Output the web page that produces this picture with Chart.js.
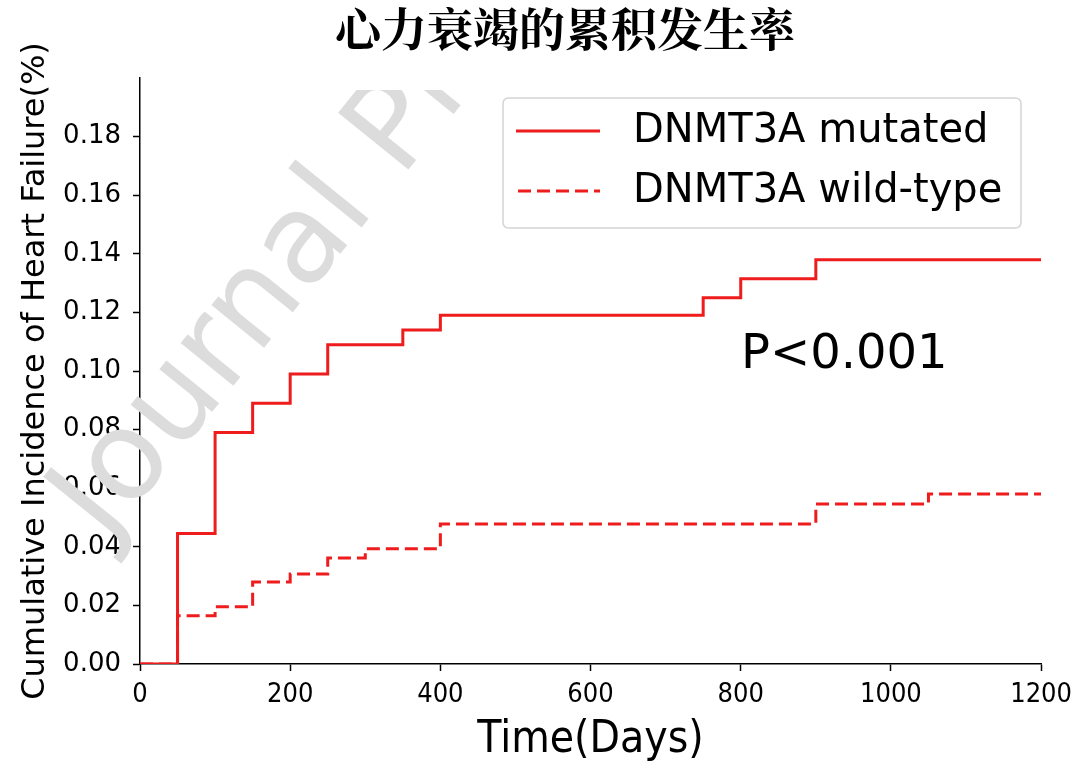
<!DOCTYPE html>
<html>
<head>
<meta charset="utf-8">
<script src="https://cdn.jsdelivr.net/npm/chart.js@4.4.1/dist/chart.umd.min.js"></script>
<style>
  html, body { margin:0; padding:0; background:#fff; }
  #c { display:block; }
</style>
</head>
<body>
<canvas id="c" width="1080" height="779"></canvas>
<script>
// data
var mutatedDays   = [0, 50, 100, 150, 200, 250, 350, 400, 750, 800, 900, 1200];
var mutatedRate   = [0, 0.0445, 0.079, 0.089, 0.099, 0.109, 0.114, 0.119, 0.125, 0.1315, 0.138, 0.138];
var wildDays      = [0, 50, 100, 150, 200, 250, 300, 400, 900, 1050, 1200];
var wildRate      = [0, 0.0165, 0.0195, 0.028, 0.0307, 0.0362, 0.0393, 0.0478, 0.0546, 0.058, 0.058];
var seriesNames   = ["DNMT3A mutated", "DNMT3A wild-type"];
var chartTitle    = "心力衰竭的累积发生率";
var xTitle        = "Time(Days)";
var yTitle        = "Cumulative Incidence of Heart Failure(%)";
var pText         = "P<0.001";
var watermarkText = "Journal Pre-proof";

function toPoints(xs, ys){
    var pts = [];
    for(var i=0;i<xs.length;i++){
        pts.push({x: xs[i], y: ys[i]});
    }
    return pts;
}

var FONT = "'DejaVu Sans', sans-serif";
var NARROW = "'Liberation Sans Narrow', 'DejaVu Sans Condensed', sans-serif";
var COND = "'DejaVu Sans Condensed', 'DejaVu Sans', sans-serif";
var RED = "#ee1c1c";

// watermark sits under the lines
var watermarkPlugin = {
    id: "watermark",
    beforeDatasetsDraw: function(chart){
        var ctx = chart.ctx;
        ctx.save();
        ctx.beginPath();
        ctx.rect(0, 90, 1080, 689);
        ctx.clip();
        ctx.translate(106, 543);
        ctx.rotate(-51 * Math.PI / 180);
        ctx.fillStyle = "#dcdcdc";
        ctx.font = "124px " + FONT;
        ctx.textBaseline = "alphabetic";
        ctx.fillText(watermarkText, 0, 0);
        ctx.restore();
    }
};

// title, legend box and p value
var overlayPlugin = {
    id: "overlay",
    afterDraw: function(chart){
        var ctx = chart.ctx;
        ctx.save();
        ctx.fillStyle = "#000";
        ctx.textAlign = "center";
        ctx.textBaseline = "middle";
        ctx.font = "bold 46px 'Noto Serif CJK SC', 'Noto Sans CJK SC', serif";
        ctx.fillText(chartTitle, 565, 29);

        // legend box
        var bx = 503, by = 98, bw = 518, bh = 130, r = 6;
        ctx.beginPath();
        ctx.moveTo(bx + r, by);
        ctx.lineTo(bx + bw - r, by);
        ctx.quadraticCurveTo(bx + bw, by, bx + bw, by + r);
        ctx.lineTo(bx + bw, by + bh - r);
        ctx.quadraticCurveTo(bx + bw, by + bh, bx + bw - r, by + bh);
        ctx.lineTo(bx + r, by + bh);
        ctx.quadraticCurveTo(bx, by + bh, bx, by + bh - r);
        ctx.lineTo(bx, by + r);
        ctx.quadraticCurveTo(bx, by, bx + r, by);
        ctx.closePath();
        ctx.fillStyle = "rgba(255,255,255,0.92)";
        ctx.fill();
        ctx.strokeStyle = "#d4d4d4";
        ctx.lineWidth = 1.5;
        ctx.stroke();

        ctx.strokeStyle = RED;
        ctx.lineWidth = 3;
        ctx.setLineDash([]);
        ctx.beginPath();
        ctx.moveTo(516, 131); ctx.lineTo(600, 131);
        ctx.stroke();
        ctx.setLineDash([13, 6]);
        ctx.beginPath();
        ctx.moveTo(518, 191); ctx.lineTo(600, 191);
        ctx.stroke();
        ctx.setLineDash([]);

        ctx.fillStyle = "#000";
        ctx.textAlign = "left";
        ctx.font = "40px " + FONT;
        ctx.fillText(seriesNames[0], 633, 132);
        ctx.fillText(seriesNames[1], 633, 192);

        ctx.font = "48px " + FONT;
        ctx.fillText(pText, 741, 356);
        ctx.restore();
    }
};

var ctx = document.getElementById("c").getContext("2d");
var chart = new Chart(ctx, {
    type: "line",
    data: {
        datasets: [{
            label: seriesNames[0],
            data: toPoints(mutatedDays, mutatedRate),
            borderColor: RED,
            borderWidth: 3,
            stepped: true,
            pointRadius: 0,
            fill: false
        }, {
            label: seriesNames[1],
            data: toPoints(wildDays, wildRate),
            borderColor: RED,
            borderWidth: 3,
            borderDash: [13, 6],
            stepped: true,
            pointRadius: 0,
            fill: false
        }]
    },
    options: {
        responsive: false,
        animation: false,
        layout: { padding: { left: 0, right: 38, top: 78, bottom: 0 } },
        plugins: {
            legend: { display: false },
            title: { display: false },
            tooltip: { enabled: false }
        },
        scales: {
            x: {
                type: "linear",
                min: 0,
                max: 1200,
                afterFit: function(s){ s.height = 115; },
                ticks: {
                    stepSize: 200,
                    color: "#000",
                    padding: 8,
                    maxRotation: 0,
                    font: { family: NARROW, size: 27 },
                    callback: function(v){ return String(v); }
                },
                grid: { drawOnChartArea: false, drawTicks: true, tickLength: 7, tickColor: "#000", tickWidth: 1.5 },
                border: { display: true, color: "#000", width: 1.5 },
                title: {
                    display: true,
                    text: xTitle,
                    color: "#000",
                    font: { family: COND, size: 44 },
                    padding: { top: 0, bottom: 12 }
                }
            },
            y: {
                type: "linear",
                min: 0,
                max: 0.2,
                afterFit: function(s){ s.width = 140; },
                afterBuildTicks: function(s){
                    s.ticks = s.ticks.filter(function(t){ return t.value < 0.19; });
                },
                ticks: {
                    stepSize: 0.02,
                    color: "#000",
                    padding: 12,
                    font: { family: FONT, size: 26 },
                    callback: function(v){ return v.toFixed(2); }
                },
                grid: { drawOnChartArea: false, drawTicks: true, tickLength: 7, tickColor: "#000", tickWidth: 1.5 },
                border: { display: true, color: "#000", width: 1.5 },
                title: {
                    display: true,
                    text: yTitle,
                    color: "#000",
                    font: { family: FONT, size: 32 },
                    padding: { top: 16, bottom: 0 }
                }
            }
        }
    },
    plugins: [watermarkPlugin, overlayPlugin]
});
</script>
</body>
</html>
